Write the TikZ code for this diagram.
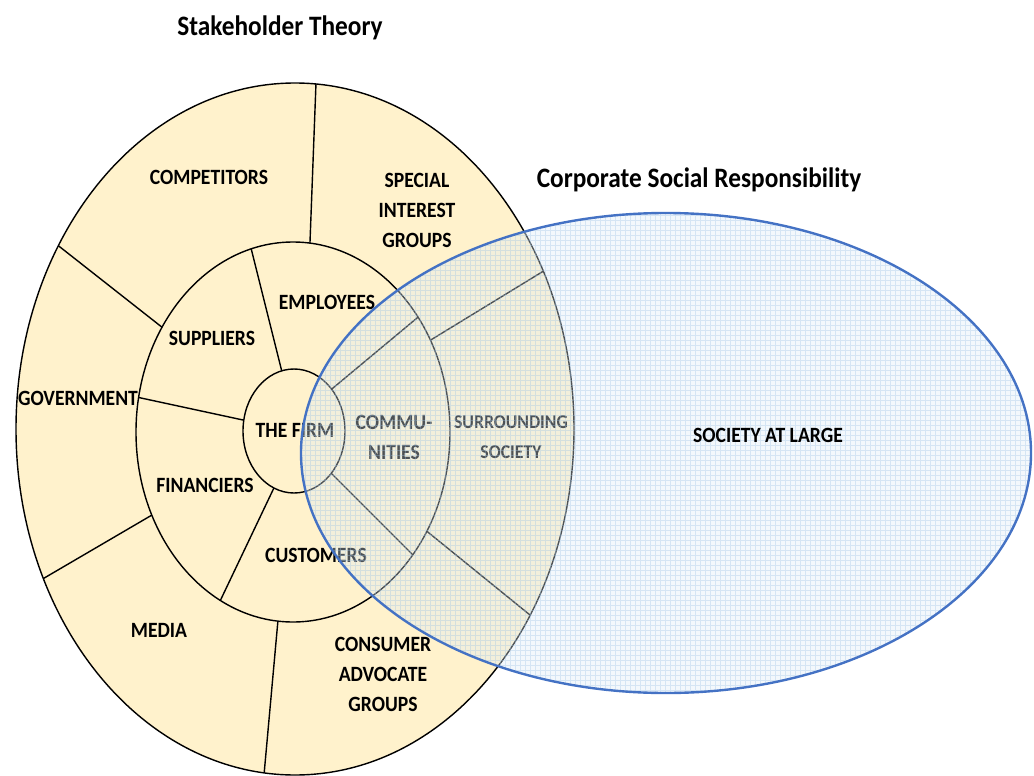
\documentclass[tikz,border=0pt]{standalone}
\usepackage{fontspec}
\setmainfont{Carlito}[FakeStretch=0.9]
\usetikzlibrary{calc}
\definecolor{ringfill}{RGB}{255,242,204}
\definecolor{csrline}{RGB}{68,114,196}
\definecolor{csrgrid}{RGB}{157,195,230}
\definecolor{csrfill}{RGB}{222,235,247}
\tikzset{lbl/.style={font=\bfseries\fontsize{15.5}{21.3}\selectfont,align=center,inner sep=0pt},
  ttl/.style={font=\bfseries\fontsize{20}{22}\selectfont,inner sep=0pt}}
\begin{document}
\begin{tikzpicture}[x=0.025cm,y=-0.025cm,line width=1pt]
\useasboundingbox (0,0) rectangle (1034,776);
% vong ngoai
\fill[ringfill] (295,429) ellipse [x radius=279,y radius=346];
\begin{scope}
\clip (295,429) ellipse [x radius=279,y radius=346];
\foreach \p/\q in {{310,242}/{316,83},{163,328}/{60,247},{152,515}/{46,577},
  {278,620}/{264,775},{434,338}/{542,272},{429,533}/{530,615}}
\draw ($(\p)!-0.3!(\q)$) -- ($(\p)!1.3!(\q)$);
\end{scope}
\draw (295,429) ellipse [x radius=279,y radius=346];
% vong giua
\fill[ringfill] (293,432) ellipse [x radius=157,y radius=190];
\begin{scope}
\clip (293,432) ellipse [x radius=157,y radius=190];
\foreach \p/\q in {{281,368}/{251,248},{243,420}/{141,398},{272,492}/{222,597},
  {333,388}/{417,318},{333,475}/{413,555}}
\draw ($(\p)!-0.4!(\q)$) -- ($(\p)!1.3!(\q)$);
\end{scope}
\draw (293,432) ellipse [x radius=157,y radius=190];
% the firm
\filldraw[fill=ringfill] (294,431) ellipse [x radius=51,y radius=62];
% cac nhom
\node[lbl] (competitors) at (209,177) {COMPETITORS};
\node[lbl] (special) at (417,210) {SPECIAL\\INTEREST\\GROUPS};
\node[lbl] (employees) at (327,302) {EMPLOYEES};
\node[lbl] (suppliers) at (212,338) {SUPPLIERS};
\node[lbl] (government) at (78,398) {GOVERNMENT};
\node[lbl] (firm) at (295,430) {THE FIRM};
\node[lbl] (communities) at (394,437) {COMMU-\\NITIES};
\node[lbl,font=\bfseries\fontsize{14}{21.3}\selectfont] (surrounding) at (511,437) {SURROUNDING\\SOCIETY};
\node[lbl] (financiers) at (205,485) {FINANCIERS};
\node[lbl] (customers) at (316,555) {CUSTOMERS};
\node[lbl] (media) at (159,630) {MEDIA};
\node[lbl] (consumer) at (383,674) {CONSUMER\\ADVOCATE\\GROUPS};
% CSR
\fill[csrfill,fill opacity=0.35] (666,453) ellipse [x radius=365,y radius=240];
\begin{scope}
\clip (666,453) ellipse [x radius=365,y radius=240];
\draw[csrgrid,line width=0.3pt,opacity=0.35,step=0.125cm] (290,200) grid (1040,700);
\end{scope}
\draw[csrline,line width=1.7pt] (666,453) ellipse [x radius=365,y radius=240];
\node[lbl] (society) at (768,435) {SOCIETY AT LARGE};
% tieu de
\node[ttl] (stakeholder) at (280,28) {Stakeholder Theory};
\node[ttl] (csr) at (699,180) {Corporate Social Responsibility};
\end{tikzpicture}
\end{document}
